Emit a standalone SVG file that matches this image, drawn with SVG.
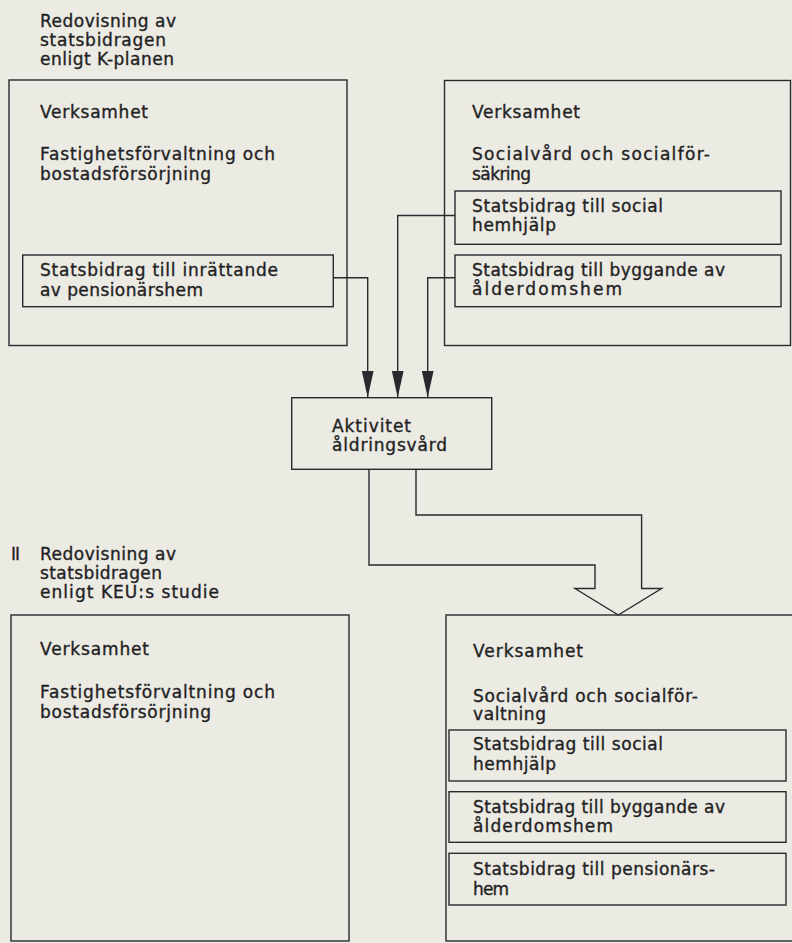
<svg xmlns="http://www.w3.org/2000/svg" width="792" height="943" viewBox="0 0 792 943">
<style>
.bg{fill:#ebeae3}
.box{fill:none;stroke:#2a2a2e;stroke-width:1.4}
.t{font-family:"DejaVu Sans","Liberation Sans",sans-serif;font-size:17px;fill:#1f1f23;stroke:#1f1f23;stroke-width:0.35}
.c{fill:none;stroke:#2a2a2e;stroke-width:1.4}
</style>
<defs>
<marker id="ah" markerUnits="userSpaceOnUse" viewBox="0 0 27 12" refX="27" refY="6" markerWidth="27" markerHeight="12" orient="auto">
<path d="M0,0 L27,6 L0,12 z" fill="#2a2a2e"/>
</marker>
</defs>
<rect class="bg" x="0" y="0" width="792" height="943"/>

<g id="title1">
<text class="t" x="40" y="27" textLength="136" lengthAdjust="spacing">Redovisning av</text>
<text class="t" x="40" y="46" textLength="126" lengthAdjust="spacing">statsbidragen</text>
<text class="t" x="40" y="65" textLength="134" lengthAdjust="spacing">enligt K-planen</text>
</g>

<g id="top-left">
<rect class="box" x="9" y="80" width="338" height="265.5"/>
<text class="t" x="40" y="118" textLength="108" lengthAdjust="spacing">Verksamhet</text>
<text class="t" x="40" y="160" textLength="235" lengthAdjust="spacing">Fastighetsförvaltning och</text>
<text class="t" x="40" y="180" textLength="171" lengthAdjust="spacing">bostadsförsörjning</text>
</g>
<g id="tl-inrattande">
<rect class="box" x="22.7" y="255" width="310.6" height="51.7"/>
<text class="t" x="40" y="276" textLength="238" lengthAdjust="spacing">Statsbidrag till inrättande</text>
<text class="t" x="40" y="296" textLength="163" lengthAdjust="spacing">av pensionärshem</text>
</g>

<g id="top-right">
<rect class="box" x="444.5" y="80.5" width="346" height="265"/>
<text class="t" x="472" y="118" textLength="108" lengthAdjust="spacing">Verksamhet</text>
<text class="t" x="472" y="160" textLength="238" lengthAdjust="spacing">Socialvård och socialför-</text>
<text class="t" x="472" y="180" textLength="59" lengthAdjust="spacing">säkring</text>
</g>
<g id="tr-hemhjalp">
<rect class="box" x="455" y="191" width="326" height="53.3"/>
<text class="t" x="472" y="211.5" textLength="191" lengthAdjust="spacing">Statsbidrag till social</text>
<text class="t" x="472" y="230.5" textLength="84" lengthAdjust="spacing">hemhjälp</text>
</g>
<g id="tr-byggande">
<rect class="box" x="455" y="255" width="326" height="51.7"/>
<text class="t" x="472" y="275.5" textLength="253" lengthAdjust="spacing">Statsbidrag till byggande av</text>
<text class="t" x="472" y="295" textLength="150" lengthAdjust="spacing">ålderdomshem</text>
</g>

<g id="aktivitet">
<rect class="box" x="291.7" y="397.7" width="200" height="71.6"/>
<text class="t" x="332" y="431.5" textLength="79" lengthAdjust="spacing">Aktivitet</text>
<text class="t" x="332" y="451" textLength="115" lengthAdjust="spacing">åldringsvård</text>
</g>

<g id="connectors">
<path class="c" d="M333.3,277.7 H367.7 V397.5" marker-end="url(#ah)"/>
<path class="c" d="M455,215.5 H397.7 V397.5" marker-end="url(#ah)"/>
<path class="c" d="M455,277.7 H427.7 V397.5" marker-end="url(#ah)"/>
<path class="c" d="M369,469.3 V565 H595 V588.5 H575 L618.3,615 L661.6,588.5 H641.6 V515 H416 V469.3"/>
</g>

<g id="title2">
<text class="t" x="11" y="560" textLength="9" lengthAdjust="spacing">II</text>
<text class="t" x="40" y="560" textLength="136" lengthAdjust="spacing">Redovisning av</text>
<text class="t" x="40" y="579" textLength="122" lengthAdjust="spacing">statsbidragen</text>
<text class="t" x="40" y="598" textLength="179" lengthAdjust="spacing">enligt KEU:s studie</text>
</g>

<g id="bottom-left">
<rect class="box" x="11" y="615" width="338" height="326"/>
<text class="t" x="40" y="655" textLength="109" lengthAdjust="spacing">Verksamhet</text>
<text class="t" x="40" y="698" textLength="235" lengthAdjust="spacing">Fastighetsförvaltning och</text>
<text class="t" x="40" y="718" textLength="171" lengthAdjust="spacing">bostadsförsörjning</text>
</g>

<g id="bottom-right">
<rect class="box" x="446" y="615" width="360" height="326"/>
<text class="t" x="473" y="656.5" textLength="110" lengthAdjust="spacing">Verksamhet</text>
<text class="t" x="473" y="701.5" textLength="225" lengthAdjust="spacing">Socialvård och socialför-</text>
<text class="t" x="473" y="720" textLength="73" lengthAdjust="spacing">valtning</text>
</g>
<g id="br-hemhjalp">
<rect class="box" x="449" y="730" width="337" height="51"/>
<text class="t" x="473" y="750" textLength="190" lengthAdjust="spacing">Statsbidrag till social</text>
<text class="t" x="473" y="770" textLength="83" lengthAdjust="spacing">hemhjälp</text>
</g>
<g id="br-byggande">
<rect class="box" x="449" y="791.7" width="337" height="50.6"/>
<text class="t" x="473" y="812.5" textLength="252" lengthAdjust="spacing">Statsbidrag till byggande av</text>
<text class="t" x="473" y="831.5" textLength="140" lengthAdjust="spacing">ålderdomshem</text>
</g>
<g id="br-pensionarshem">
<rect class="box" x="449" y="853.3" width="337" height="51.7"/>
<text class="t" x="473" y="875" textLength="242" lengthAdjust="spacing">Statsbidrag till pensionärs-</text>
<text class="t" x="473" y="895" textLength="36" lengthAdjust="spacing">hem</text>
</g>
</svg>
